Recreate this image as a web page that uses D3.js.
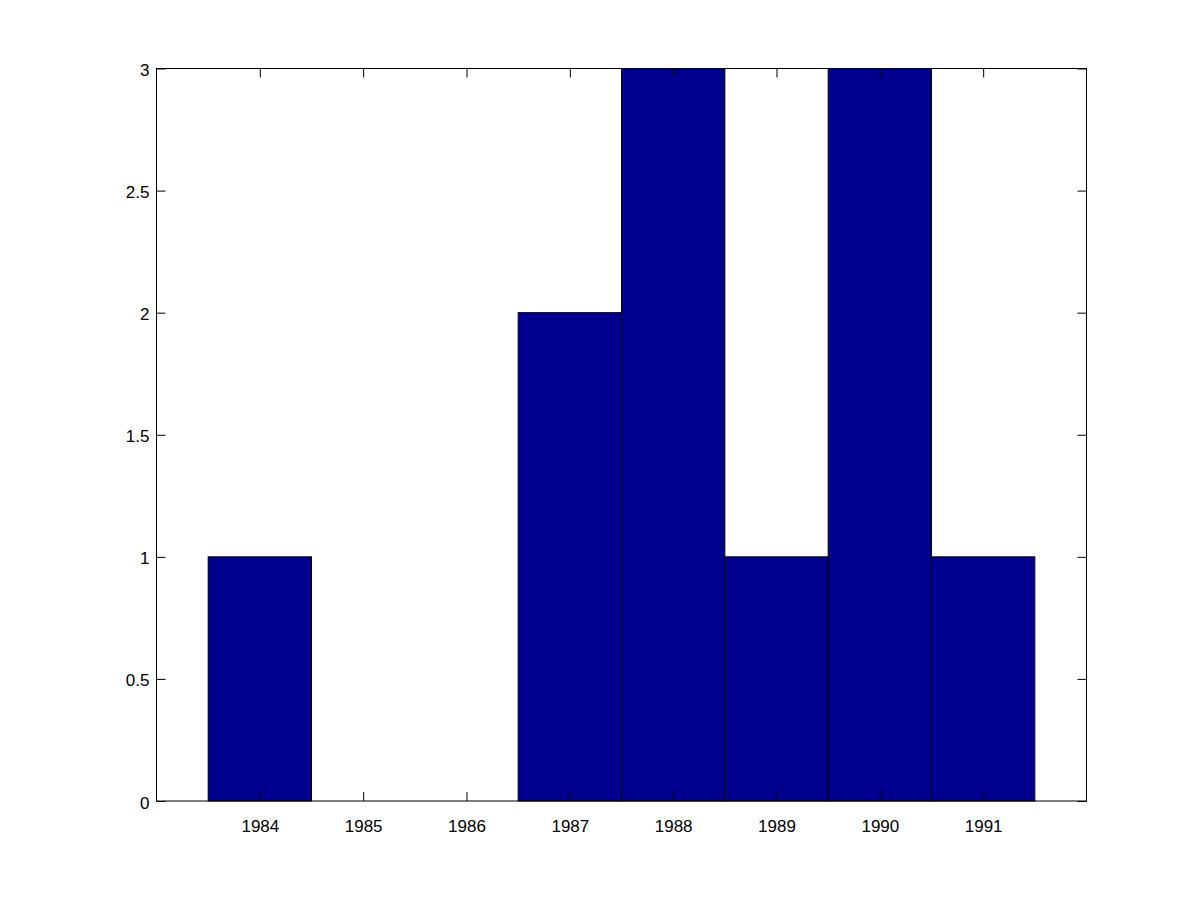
<!DOCTYPE html>
<html>
<head>
<meta charset="utf-8">
<script src="https://cdn.jsdelivr.net/npm/d3@7"></script>
<style>
html,body{margin:0;padding:0;background:#fff;}
svg{display:block;}
</style>
</head>
<body>
<svg id="chart" width="1200" height="900"></svg>
<script>
const years = [1984, 1985, 1986, 1987, 1988, 1989, 1990, 1991];
const counts = [1, 0, 0, 2, 3, 1, 3, 1];
const yTicks = [0, 0.5, 1, 1.5, 2, 2.5, 3];
const yTickLabels = ["0", "0.5", "1", "1.5", "2", "2.5", "3"];

const FONT = '"Liberation Sans", Arial, Helvetica, sans-serif';
const FS = 17;

const svg = d3.select("#chart");
const L = 156.5, R = 1086.5, T = 68.5, B = 801;
const x = d3.scaleLinear().domain([1983, 1992]).range([L, R]);
const y = d3.scaleLinear().domain([0, 3]).range([B, T]);

svg.append("rect").attr("width",1200).attr("height",900).attr("fill","#fff");

// bars
svg.append("g").selectAll("rect").data(years.map((yr,i)=>({yr, v:counts[i]})).filter(d=>d.v>0))
  .join("rect")
  .attr("x", d => x(d.yr - 0.5))
  .attr("width", d => x(d.yr + 0.5) - x(d.yr - 0.5))
  .attr("y", d => y(d.v))
  .attr("height", d => y(0) - y(d.v))
  .attr("fill", "#00008F")
  .attr("stroke", "#000")
  .attr("stroke-width", 1);

const tickLen = 9;
const gx = svg.append("g").attr("transform", `translate(0,${B})`)
  .call(d3.axisBottom(x).tickValues(years).tickFormat(d3.format("d")).tickSizeInner(-tickLen).tickSizeOuter(0));
gx.selectAll("text").attr("y", 30.5).attr("dy", null);
const gxt = svg.append("g").attr("transform", `translate(0,${T})`)
  .call(d3.axisTop(x).tickValues(years).tickFormat("").tickSizeInner(-tickLen).tickSizeOuter(0));
const gy = svg.append("g").attr("transform", `translate(${L},0)`)
  .call(d3.axisLeft(y).tickValues(yTicks).tickFormat((d,i)=>yTickLabels[i]).tickSizeInner(-tickLen).tickSizeOuter(0));
gy.selectAll("text").attr("x", -7).attr("dy", null).attr("y", 7);
const gyr = svg.append("g").attr("transform", `translate(${R},0)`)
  .call(d3.axisRight(y).tickValues(yTicks).tickFormat("").tickSizeInner(-tickLen).tickSizeOuter(0));

[gx,gxt,gy,gyr].forEach(g=>{
  g.select(".domain").remove();
  g.attr("font-family", FONT).attr("font-size", FS);
  g.selectAll("line").attr("stroke","#000").attr("stroke-width",1);
  g.selectAll("text").attr("fill","#000");
});

svg.append("rect").attr("x",L).attr("y",T).attr("width",R-L).attr("height",B-T)
  .attr("fill","none").attr("stroke","#000").attr("stroke-width",1);
</script>
</body>
</html>
